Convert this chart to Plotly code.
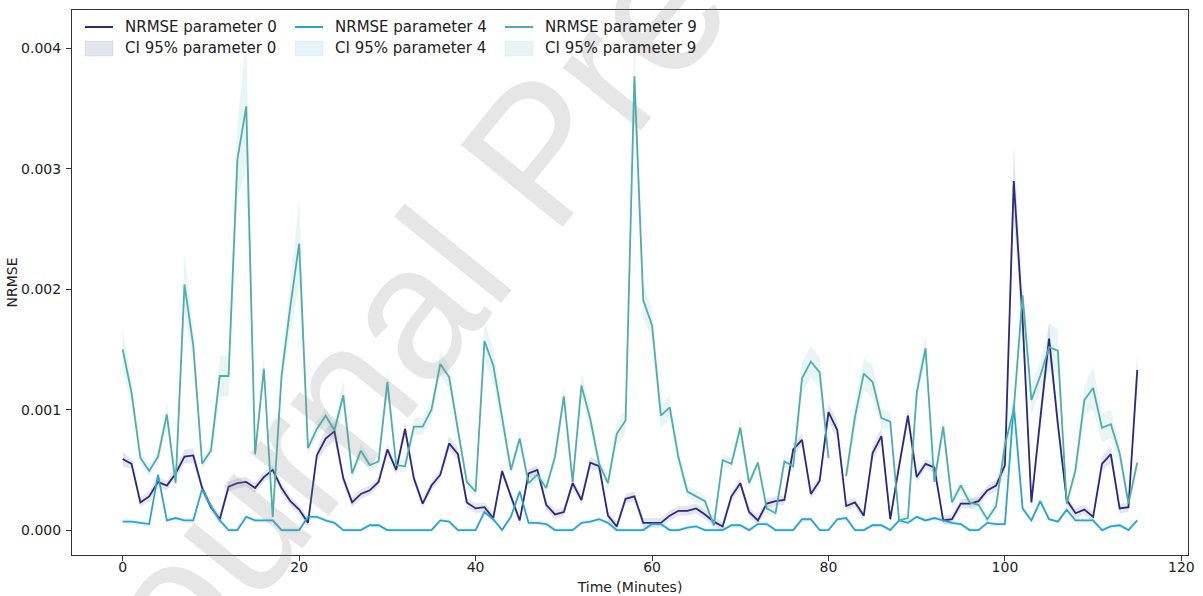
import plotly.graph_objects as go

# ---------------- data ----------------
time_min = list(range(116))

nrmse_p0 = [
    0.00059, 0.00055, 0.00023, 0.00028, 0.00040, 0.00037, 0.00047, 0.00061, 0.00062, 0.00035,
    0.00019, 0.00009, 0.00036, 0.00039, 0.00040, 0.00035, 0.00044, 0.00050, 0.00035, 0.00024,
    0.00017, 0.00006, 0.00062, 0.00076, 0.00082, 0.00043, 0.00023, 0.00030, 0.00033, 0.00040,
    0.00067, 0.00050, 0.00084, 0.00043, 0.00022, 0.00037, 0.00046, 0.00072, 0.00063, 0.00023,
    0.00018, 0.00019, 0.00010, 0.00049, 0.00028, 0.00008, 0.00047, 0.00050, 0.00021, 0.00013,
    0.00015, 0.00039, 0.00025, 0.00056, 0.00053, 0.00012, 0.00003, 0.00026, 0.00028, 0.00006,
    0.00006, 0.00006, 0.00012, 0.00016, 0.00016, 0.00018, 0.00013, 0.00007, 0.00003, 0.00028,
    0.00039, 0.00015, 0.00008, 0.00022, 0.00024, 0.00025, 0.00067, 0.00075, 0.00030, 0.00041,
    0.00098, 0.00083, 0.00020, 0.00023, 0.00012, 0.00064, 0.00078, 0.00009, 0.00053, 0.00095,
    0.00044, 0.00055, 0.00052, 0.00008, 0.00009, 0.00022, 0.00022, 0.00024, 0.00033, 0.00037,
    0.00054, 0.00290, 0.00175, 0.00023, 0.00092, 0.00159, 0.00088, 0.00025, 0.00014, 0.00017,
    0.00011, 0.00055, 0.00063, 0.00018, 0.00019, 0.00133,
]

nrmse_p4 = [
    0.00007, 0.00007, 0.00006, 0.00005, 0.00046, 0.00008, 0.00010, 0.00008, 0.00008, 0.00034,
    0.00020, 0.00008, 0.00000, 0.00000, 0.00011, 0.00008, 0.00008, 0.00008, 0.00000, 0.00000,
    0.00000, 0.00011, 0.00011, 0.00008, 0.00006, 0.00000, 0.00000, 0.00000, 0.00004, 0.00004,
    0.00000, 0.00000, 0.00000, 0.00000, 0.00000, 0.00000, 0.00008, 0.00007, 0.00000, 0.00000,
    0.00000, 0.00015, 0.00009, 0.00000, 0.00011, 0.00032, 0.00006, 0.00006, 0.00005, 0.00000,
    0.00000, 0.00000, 0.00006, 0.00007, 0.00009, 0.00006, 0.00000, 0.00000, 0.00000, 0.00000,
    0.00005, 0.00005, 0.00000, 0.00000, 0.00002, 0.00003, 0.00000, 0.00000, 0.00000, 0.00004,
    0.00004, 0.00000, 0.00005, 0.00005, 0.00000, 0.00000, 0.00000, 0.00009, 0.00009, 0.00000,
    0.00000, 0.00009, 0.00010, 0.00000, 0.00000, 0.00004, 0.00004, 0.00000, 0.00008, 0.00006,
    0.00011, 0.00008, 0.00010, 0.00008, 0.00006, 0.00005, 0.00000, 0.00000, 0.00006, 0.00005,
    0.00005, 0.00104, 0.00018, 0.00008, 0.00024, 0.00009, 0.00007, 0.00017, 0.00008, 0.00008,
    0.00008, 0.00000, 0.00003, 0.00004, 0.00000, 0.00008,
]

nrmse_p9 = [
    0.00150, 0.00114, 0.00060, 0.00049, 0.00061, 0.00096, 0.00039, 0.00204, 0.00153, 0.00055,
    0.00066, 0.00128, 0.00128, 0.00308, 0.00352, 0.00063, 0.00134, 0.00011, 0.00128, 0.00186,
    0.00238, 0.00068, 0.00084, 0.00095, 0.00083, 0.00112, 0.00047, 0.00066, 0.00054, 0.00057,
    0.00123, 0.00054, 0.00053, 0.00086, 0.00086, 0.00100, 0.00138, 0.00127, 0.00083, 0.00040,
    0.00032, 0.00157, 0.00137, 0.00093, 0.00050, 0.00076, 0.00039, 0.00046, 0.00035, 0.00061,
    0.00111, 0.00040, 0.00120, 0.00092, 0.00055, 0.00039, 0.00080, 0.00091, 0.00377, 0.00191,
    0.00170, 0.00095, 0.00102, 0.00060, 0.00032, 0.00028, 0.00024, 0.00004, 0.00058, 0.00055,
    0.00085, 0.00039, 0.00056, 0.00018, 0.00014, 0.00057, 0.00053, 0.00126, 0.00140, 0.00131,
    0.00060, None,    0.00045, 0.00094, 0.00130, 0.00123, 0.00093, 0.00090, 0.00008, 0.00010,
    0.00114, 0.00151, 0.00040, 0.00086, 0.00023, 0.00037, 0.00023, 0.00021, 0.00009, 0.00020,
    0.00071, 0.00100, 0.00195, 0.00108, 0.00128, 0.00152, 0.00149, 0.00022, 0.00050, 0.00108,
    0.00118, 0.00085, 0.00088, 0.00064, 0.00022, 0.00056,
]

# half-widths of the 95% confidence bands (read from the shaded areas)
ci_half_p0 = [
    0.00006, 0.00004, 0.00004, 0.00004, 0.00004, 0.00004, 0.00004, 0.00006, 0.00006, 0.00004,
    0.00004, 0.00004, 0.00004, 0.00004, 0.00004, 0.00004, 0.00004, 0.00004, 0.00004, 0.00004,
    0.00004, 0.00004, 0.00005, 0.00008, 0.00008, 0.00005, 0.00004, 0.00004, 0.00004, 0.00004,
    0.00004, 0.00004, 0.00006, 0.00004, 0.00004, 0.00004, 0.00004, 0.00006, 0.00005, 0.00004,
    0.00004, 0.00004, 0.00004, 0.00004, 0.00004, 0.00004, 0.00004, 0.00004, 0.00004, 0.00004,
    0.00004, 0.00004, 0.00004, 0.00005, 0.00004, 0.00004, 0.00004, 0.00004, 0.00004, 0.00004,
    0.00004, 0.00004, 0.00004, 0.00004, 0.00004, 0.00004, 0.00004, 0.00004, 0.00004, 0.00004,
    0.00004, 0.00004, 0.00004, 0.00004, 0.00004, 0.00004, 0.00005, 0.00005, 0.00004, 0.00004,
    0.00008, 0.00007, 0.00004, 0.00004, 0.00004, 0.00006, 0.00007, 0.00004, 0.00004, 0.00007,
    0.00004, 0.00004, 0.00004, 0.00004, 0.00004, 0.00004, 0.00004, 0.00004, 0.00004, 0.00005,
    0.00006, 0.00030, 0.00015, 0.00004, 0.00010, 0.00013, 0.00008, 0.00004, 0.00004, 0.00004,
    0.00004, 0.00006, 0.00007, 0.00004, 0.00004, 0.00015,
]

ci_half_p4 = [
    0.00002, 0.00002, 0.00002, 0.00002, 0.00003, 0.00002, 0.00002, 0.00002, 0.00002, 0.00003,
    0.00002, 0.00002, 0.00002, 0.00002, 0.00002, 0.00002, 0.00002, 0.00002, 0.00002, 0.00002,
    0.00002, 0.00002, 0.00002, 0.00002, 0.00002, 0.00002, 0.00002, 0.00002, 0.00002, 0.00002,
    0.00002, 0.00002, 0.00002, 0.00002, 0.00002, 0.00002, 0.00002, 0.00002, 0.00002, 0.00002,
    0.00002, 0.00002, 0.00002, 0.00002, 0.00002, 0.00003, 0.00002, 0.00002, 0.00002, 0.00002,
    0.00002, 0.00002, 0.00002, 0.00002, 0.00002, 0.00002, 0.00002, 0.00002, 0.00002, 0.00002,
    0.00002, 0.00002, 0.00002, 0.00002, 0.00002, 0.00002, 0.00002, 0.00002, 0.00002, 0.00002,
    0.00002, 0.00002, 0.00002, 0.00002, 0.00002, 0.00002, 0.00002, 0.00002, 0.00002, 0.00002,
    0.00002, 0.00002, 0.00002, 0.00002, 0.00002, 0.00002, 0.00002, 0.00002, 0.00002, 0.00002,
    0.00002, 0.00002, 0.00002, 0.00002, 0.00002, 0.00002, 0.00002, 0.00002, 0.00002, 0.00002,
    0.00002, 0.00005, 0.00003, 0.00002, 0.00003, 0.00002, 0.00002, 0.00002, 0.00002, 0.00002,
    0.00002, 0.00002, 0.00002, 0.00002, 0.00002, 0.00002,
]

ci_half_p9 = [
    0.00017, 0.00010, 0.00005, 0.00005, 0.00005, 0.00010, 0.00005, 0.00025, 0.00015, 0.00005,
    0.00005, 0.00017, 0.00017, 0.00030, 0.00055, 0.00005, 0.00010, 0.00005, 0.00010, 0.00020,
    0.00036, 0.00005, 0.00006, 0.00006, 0.00006, 0.00012, 0.00005, 0.00006, 0.00005, 0.00005,
    0.00010, 0.00005, 0.00005, 0.00007, 0.00007, 0.00008, 0.00010, 0.00010, 0.00008, 0.00005,
    0.00005, 0.00015, 0.00015, 0.00010, 0.00005, 0.00007, 0.00005, 0.00005, 0.00005, 0.00006,
    0.00010, 0.00005, 0.00010, 0.00010, 0.00006, 0.00005, 0.00010, 0.00010, 0.00035, 0.00015,
    0.00012, 0.00010, 0.00010, 0.00006, 0.00005, 0.00005, 0.00005, 0.00004, 0.00005, 0.00005,
    0.00008, 0.00005, 0.00005, 0.00004, 0.00004, 0.00005, 0.00005, 0.00013, 0.00013, 0.00013,
    0.00006, 0.00005, 0.00006, 0.00012, 0.00013, 0.00013, 0.00008, 0.00008, 0.00004, 0.00004,
    0.00010, 0.00010, 0.00006, 0.00008, 0.00005, 0.00005, 0.00005, 0.00005, 0.00004, 0.00005,
    0.00008, 0.00010, 0.00015, 0.00012, 0.00012, 0.00020, 0.00018, 0.00005, 0.00008, 0.00012,
    0.00018, 0.00012, 0.00012, 0.00008, 0.00005, 0.00008,
]

x_ticks = [0, 20, 40, 60, 80, 100, 120]
y_ticks = [0.000, 0.001, 0.002, 0.003, 0.004]

series_names = ["parameter 0", "parameter 4", "parameter 9"]
line_colors = ["#2b2a7c", "#2aa4cf", "#4eaead"]
band_colors = ["rgba(43,42,124,0.12)", "rgba(42,164,207,0.12)", "rgba(78,174,173,0.12)"]
series_values = [nrmse_p0, nrmse_p4, nrmse_p9]
series_ci = [ci_half_p0, ci_half_p4, ci_half_p9]


def band_polygon(xs, ys, hw):
    """Closed polygons of the CI band, one per run of valid points."""
    px, py = [], []
    run = []

    def flush(r):
        return ([a[0] for a in r] + [a[0] for a in reversed(r)],
                [a[1] + a[2] for a in r] + [a[1] - a[2] for a in reversed(r)])

    for xv, yv, hv in zip(xs, ys, hw):
        if yv is None:
            if run:
                fx, fy = flush(run)
                px += fx + [None]
                py += fy + [None]
            run = []
        else:
            run.append((xv, yv, hv))
    if run:
        fx, fy = flush(run)
        px += fx
        py += fy
    return px, py


fig = go.Figure()

for name, ys, hw, fcol in zip(series_names, series_values, series_ci, band_colors):
    bx, by = band_polygon(time_min, ys, hw)
    fig.add_trace(go.Scatter(
        x=bx, y=by, mode="lines", fill="toself", fillcolor=fcol,
        line=dict(width=0, color=fcol), hoverinfo="skip",
        name="CI 95% " + name, showlegend=False,
    ))

for name, ys, col in zip(series_names, series_values, line_colors):
    fig.add_trace(go.Scatter(
        x=time_min, y=ys, mode="lines", line=dict(color=col, width=1.8),
        name="NRMSE " + name, connectgaps=False, showlegend=False,
    ))

font_family = "DejaVu Sans, Verdana, sans-serif"

# plot-area geometry in pixels (for placing the legend in paper coords)
L, R, T, B = 72, 1188, 10, 555
W, H = R - L, B - T


def px2paper(xp, yp):
    return (xp - L) / W, (B - yp) / H


shapes = []
annotations = []
col_x = [85, 295, 505]
for k in range(3):
    x0 = col_x[k]
    # line handle (row 1)
    a0, b0 = px2paper(x0, 27)
    a1, _ = px2paper(x0 + 28, 27)
    shapes.append(dict(type="line", xref="paper", yref="paper", x0=a0, x1=a1, y0=b0, y1=b0,
                       line=dict(color=line_colors[k], width=2)))
    tx, ty = px2paper(x0 + 38, 27)
    annotations.append(dict(text="NRMSE " + series_names[k], xref="paper", yref="paper",
                            x=tx, y=ty, xanchor="left", yanchor="middle", showarrow=False,
                            font=dict(size=15, family=font_family, color="#222222")))
    # patch handle (row 2)
    p0x, p0y = px2paper(x0, 56)
    p1x, p1y = px2paper(x0 + 28, 41)
    shapes.append(dict(type="rect", xref="paper", yref="paper", x0=p0x, x1=p1x, y0=p0y, y1=p1y,
                       fillcolor=band_colors[k], line=dict(width=0.6, color=band_colors[k])))
    tx, ty = px2paper(x0 + 38, 48)
    annotations.append(dict(text="CI 95% " + series_names[k], xref="paper", yref="paper",
                            x=tx, y=ty, xanchor="left", yanchor="middle", showarrow=False,
                            font=dict(size=15, family=font_family, color="#222222")))

# watermark (drawn first so the chart texts sit on top of it)
annotations.insert(0, dict(
    text="Journal Pre-proof", xref="paper", yref="paper",
    x=0.418, y=0.739, xanchor="center", yanchor="middle",
    showarrow=False, textangle=-51,
    font=dict(family="Liberation Sans, Arial, sans-serif", size=190,
              color="rgba(140,140,140,0.22)"),
))

fig.update_layout(
    width=1203, height=596,
    margin=dict(l=L, r=1203 - R, t=T, b=596 - B, autoexpand=False),
    paper_bgcolor="white", plot_bgcolor="white",
    font=dict(family=font_family, size=14, color="#222222"),
    showlegend=False,
    shapes=shapes,
    annotations=annotations,
    xaxis=dict(
        range=[-5.75, 120.75], tickvals=x_ticks, ticktext=[str(v) for v in x_ticks],
        showgrid=False, zeroline=False, showline=True, mirror=True, automargin=False,
        linecolor="#333333", linewidth=1, ticks="outside", ticklen=5,
        tickcolor="#333333", tickfont=dict(size=14), ticklabelstandoff=-6,
        title=dict(text="Time (Minutes)", font=dict(size=14), standoff=8),
    ),
    yaxis=dict(
        range=[-0.000207, 0.00432], tickvals=y_ticks,
        ticktext=["%.3f" % v for v in y_ticks],
        showgrid=False, zeroline=False, showline=True, mirror=True, automargin=False,
        linecolor="#333333", linewidth=1, ticks="outside", ticklen=5,
        tickcolor="#333333", tickfont=dict(size=14), ticklabelstandoff=2,
        title=dict(text="NRMSE", font=dict(size=14), standoff=0),
    ),
)

fig.write_html("out.html")
